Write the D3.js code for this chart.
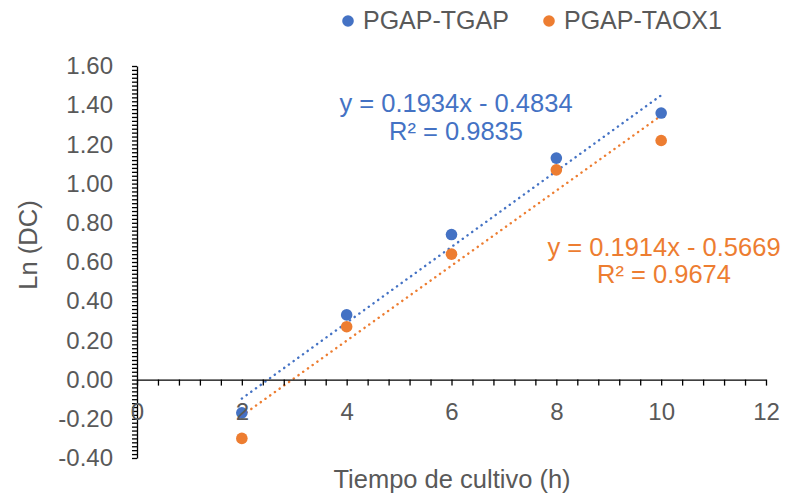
<!DOCTYPE html>
<html>
<head>
<meta charset="utf-8">
<script src="https://cdn.jsdelivr.net/npm/d3@7"></script>
<style>
  body { margin: 0; background: #fff; }
  svg { display: block; font-family: "Liberation Sans", Arial, sans-serif; }
</style>
</head>
<body>
<div id="main"></div>
<script>
// Data
const hours = [2, 4, 6, 8, 10];
const tgap = [-0.17, 0.33, 0.74, 1.13, 1.36];   // PGAP-TGAP
const taox1 = [-0.30, 0.27, 0.64, 1.07, 1.22];  // PGAP-TAOX1

const seriesNames = ['PGAP-TGAP', 'PGAP-TAOX1'];
const slopes = [0.1934, 0.1914];
const intercepts = [-0.4834, -0.5669];
const rSquared = [0.9835, 0.9674];

const xTicks = [0, 2, 4, 6, 8, 10, 12];
const yTicks = [-0.4, -0.2, 0, 0.2, 0.4, 0.6, 0.8, 1.0, 1.2, 1.4, 1.6];

const xTitle = 'Tiempo de cultivo (h)';
const yTitle = 'Ln (DC)';

// Colours
const blue = '#4472C4';
const orange = '#ED7D31';
const textGrey = '#595959';
const colors = [blue, orange];

// SVG size
const w = 788;
const h = 493;

const svg = d3.select('#main')
    .append('svg')
    .attr('width', w)
    .attr('height', h);

// Scales
const xScale = d3.scaleLinear().domain([0, 12]).range([137, 766]);
const yScale = d3.scaleLinear().domain([-0.4, 1.6]).range([458, 66]);

// minor tick values
const xMinor = d3.range(0, 61).map((i) => i * 0.2).filter((d, i) => i % 2 == 0);
const yMinor = d3.range(0, 101).map((i) => -0.4 + i * 0.02);

// Trendlines
const trend = d3.line()
    .x((d) => xScale(d[0]))
    .y((d) => yScale(d[1]));

slopes.forEach((s, i) => {
    const x0 = d3.min(hours);
    const x1 = d3.max(hours);
    svg.append('path')
        .attr('d', trend([[x0, s * x0 + intercepts[i]], [x1, s * x1 + intercepts[i]]]))
        .attr('fill', 'none')
        .attr('stroke', colors[i])
        .attr('stroke-width', 2.4)
        .attr('stroke-linecap', 'round')
        .attr('stroke-dasharray', '0.2 5.6');
});

// Points
[tgap, taox1].forEach((vals, i) => {
    svg.append('g')
        .selectAll('circle')
        .data(vals)
        .enter()
        .append('circle')
        .attr('cx', (d, j) => xScale(hours[j]))
        .attr('cy', (d) => yScale(d))
        .attr('r', 5.8)
        .attr('fill', colors[i]);
});

// Axes - y
const yAxisG = svg.append('g')
    .attr('transform', `translate(${xScale(0)}, 0)`)
    .call(d3.axisLeft(yScale).tickValues(yMinor).tickSize(5).tickFormat('').tickSizeOuter(0));

const yLabels = svg.append('g')
    .attr('transform', `translate(${xScale(0)}, 0)`)
    .call(d3.axisLeft(yScale).tickValues(yTicks).tickSize(0).tickPadding(24)
        .tickFormat((d) => d.toFixed(2)));
yLabels.select('.domain').remove();

// Axes - x (sits on y = 0)
const xAxisG = svg.append('g')
    .attr('transform', `translate(0, ${yScale(0)})`)
    .call(d3.axisBottom(xScale).tickValues(xMinor).tickSize(6).tickFormat('').tickSizeOuter(0));

const xLabels = svg.append('g')
    .attr('transform', `translate(0, ${yScale(0)})`)
    .call(d3.axisBottom(xScale).tickValues(xTicks).tickSize(0).tickPadding(23)
        .tickFormat(d3.format('d')));
xLabels.select('.domain').remove();

svg.selectAll('.domain, .tick line')
    .attr('stroke', '#000')
    .attr('stroke-width', 1.3);

svg.selectAll('.tick text')
    .attr('fill', textGrey)
    .style('font-size', '24px')
    .style('font-family', '"Liberation Sans", Arial, sans-serif');

// Axis titles
svg.append('text')
    .attr('x', 452)
    .attr('y', 488)
    .attr('text-anchor', 'middle')
    .attr('fill', textGrey)
    .style('font-size', '25.5px')
    .text(xTitle);

svg.append('text')
    .attr('transform', 'translate(37, 245) rotate(-90)')
    .attr('text-anchor', 'middle')
    .attr('fill', textGrey)
    .style('font-size', '25.5px')
    .text(yTitle);

// Equations
const eqPos = [[456, 112, 140], [664, 256, 283]];
slopes.forEach((s, i) => {
    const g = svg.append('g')
        .attr('fill', colors[i])
        .attr('text-anchor', 'middle')
        .style('font-size', '25.5px');
    g.append('text')
        .attr('x', eqPos[i][0])
        .attr('y', eqPos[i][1])
        .text(`y = ${s.toFixed(4)}x - ${Math.abs(intercepts[i]).toFixed(4)}`);
    g.append('text')
        .attr('x', eqPos[i][0])
        .attr('y', eqPos[i][2])
        .text(`R² = ${rSquared[i].toFixed(4)}`);
});

// Legend
const legendX = [348, 549];
seriesNames.forEach((name, i) => {
    svg.append('circle')
        .attr('cx', legendX[i])
        .attr('cy', 21)
        .attr('r', 5.8)
        .attr('fill', colors[i]);
    svg.append('text')
        .attr('x', legendX[i] + 15)
        .attr('y', 29)
        .attr('fill', textGrey)
        .style('font-size', '25px')
        .text(name);
});
</script>
</body>
</html>
